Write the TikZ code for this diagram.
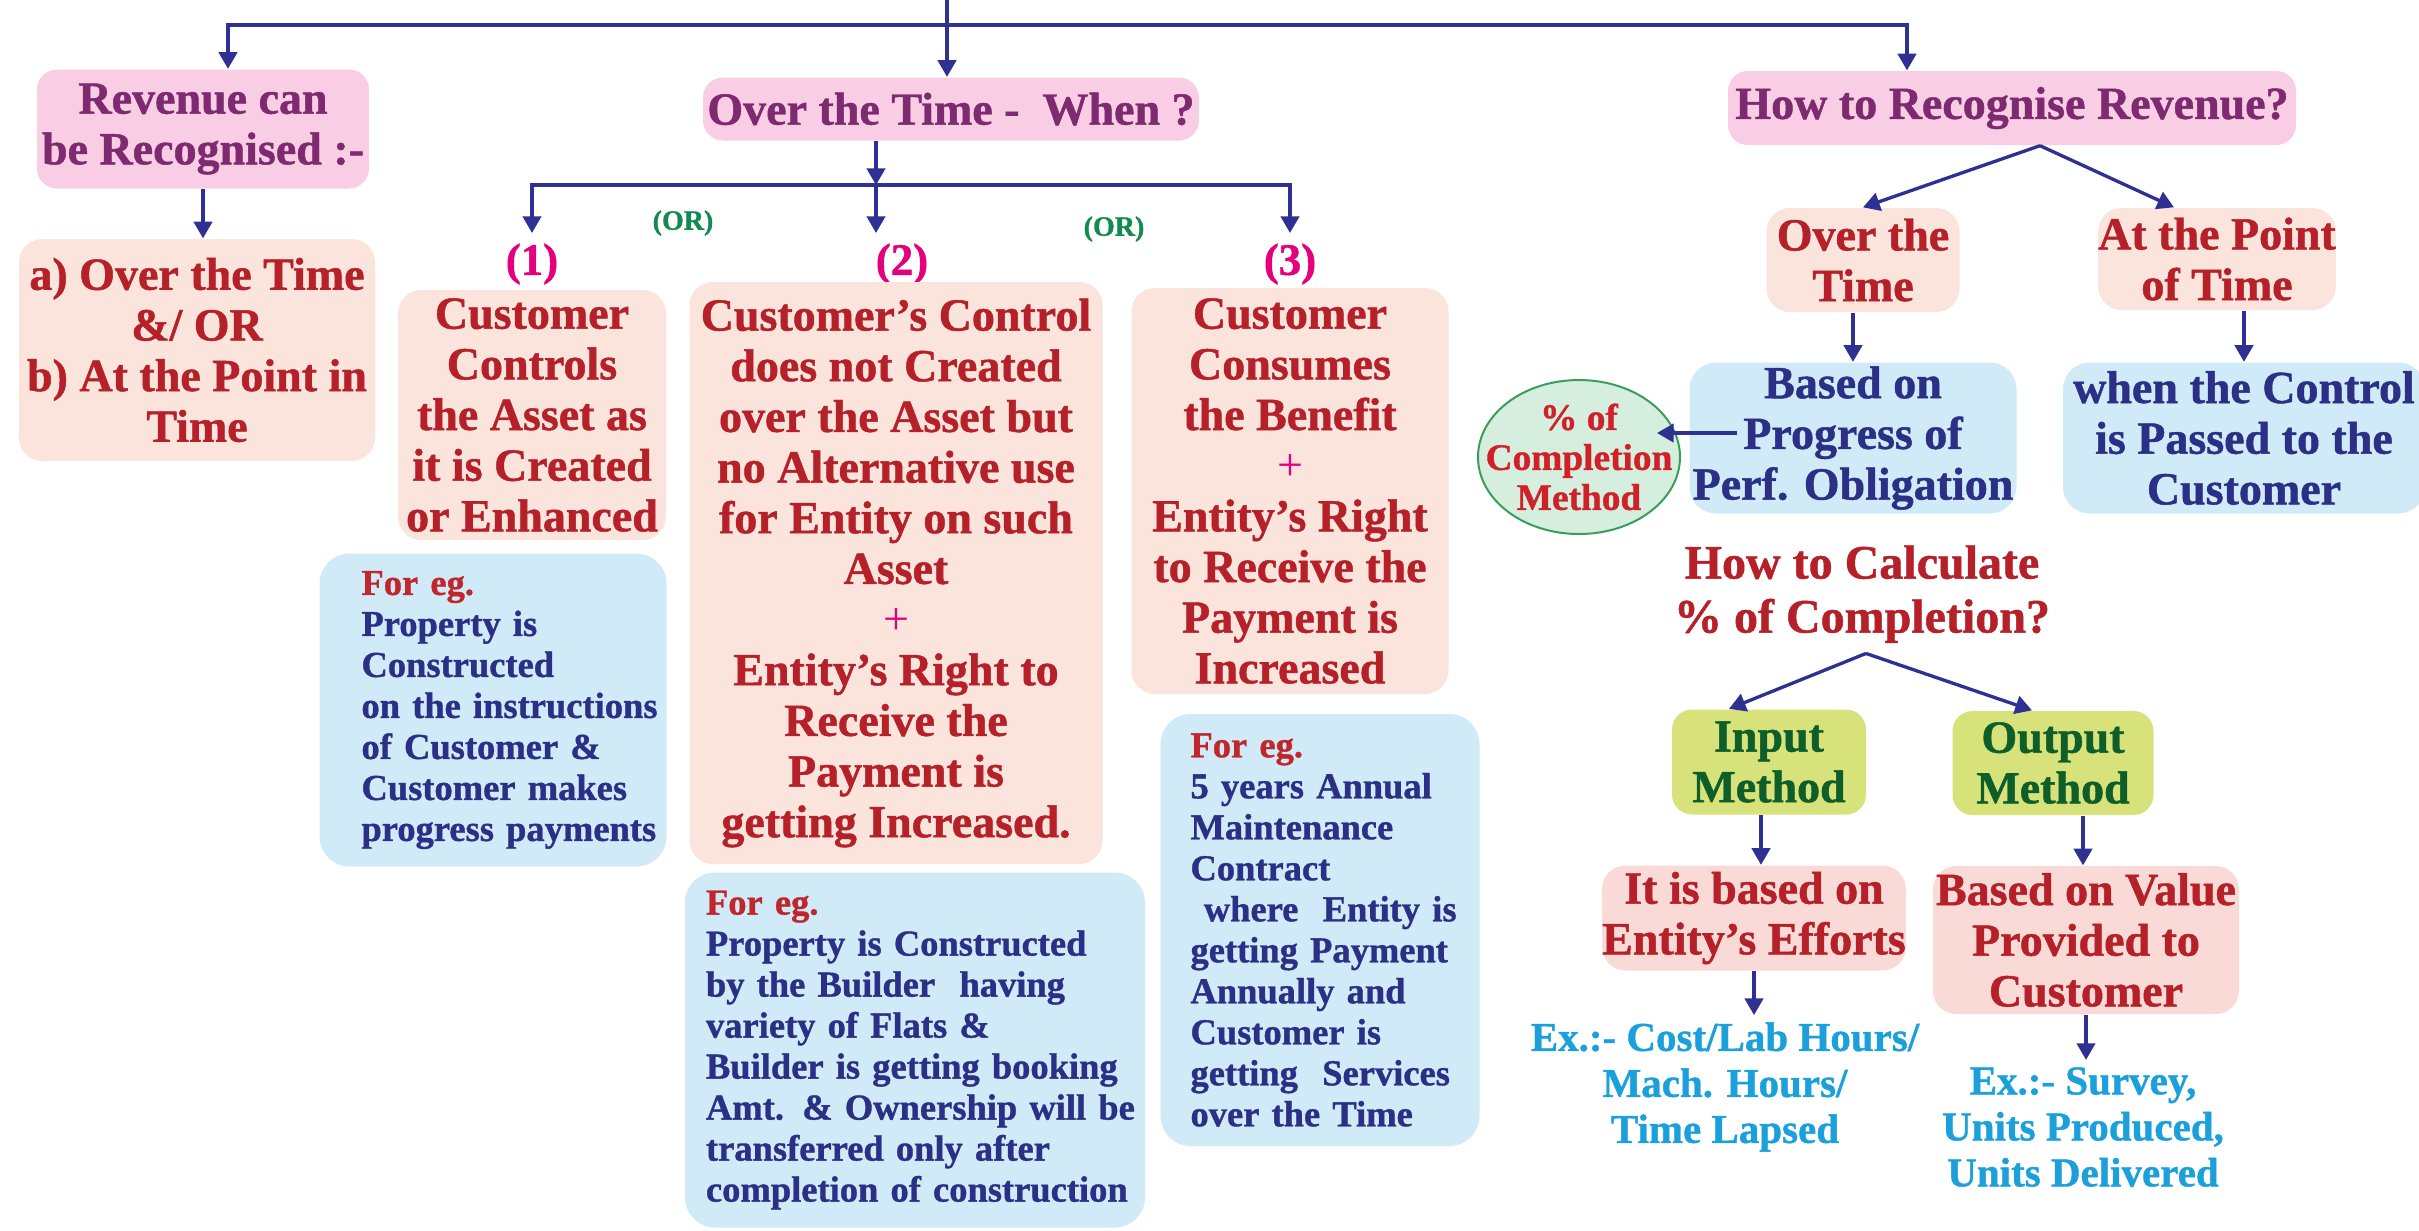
\documentclass[tikz,border=0pt]{standalone}
\usepackage{fontspec}
\setmainfont{Liberation Serif}[BoldFeatures={FakeBold=1}]
\usetikzlibrary{arrows.meta,shapes.geometric,calc}
\newdimen\pxu \pxu=0.3pt
\definecolor{arrowc}{HTML}{2E3192}
\definecolor{pinkc}{HTML}{F9CDE4}
\definecolor{purplec}{HTML}{7E2A70}
\definecolor{peachc}{HTML}{FBE4DC}
\definecolor{redc}{HTML}{B52029}
\definecolor{bluec}{HTML}{D0EAF7}
\definecolor{navyc}{HTML}{2B3086}
\definecolor{magc}{HTML}{E4007C}
\definecolor{orc}{HTML}{138A4F}
\definecolor{circfill}{HTML}{D5EEDD}
\definecolor{circdraw}{HTML}{3A9E5A}
\definecolor{circtext}{HTML}{D0202A}
\definecolor{limec}{HTML}{D7E27A}
\definecolor{dgreenc}{HTML}{0E5E2A}
\definecolor{effc}{HTML}{F9DAD6}
\definecolor{cyanc}{HTML}{1BA0DB}
\definecolor{egred}{HTML}{C0272D}
\newcommand\fmain{\fontsize{13.8pt}{15.2pt}\selectfont\bfseries}
\newcommand\feg{\fontsize{10.95pt}{12.3pt}\selectfont\bfseries}
\newcommand\for{\fontsize{8.4pt}{10pt}\selectfont\bfseries}
\newcommand\fcalc{\fontsize{14.4pt}{16.2pt}\selectfont\bfseries}
\newcommand\fcyan{\fontsize{12.3pt}{13.8pt}\selectfont\bfseries}
\newcommand\fcirc{\fontsize{11.2pt}{12pt}\selectfont\bfseries}
\newcommand\plusm{{\color{magc}\mdseries +}}
\begin{document}
\begin{tikzpicture}[x=0.3pt,y=-0.3pt,
  arr/.style={draw=arrowc, line width=1pt, -{Triangle[width=5.5pt,length=5pt]}},
  ln/.style={draw=arrowc, line width=1pt},
  base/.style={inner sep=0pt, align=center, font=\fmain},
  wh/.style 2 args={minimum width=#1\pxu, minimum height=#2\pxu},
  pinkbox/.style={base, fill=pinkc, rounded corners=6pt, text=purplec},
  peachbox/.style={base, fill=peachc, rounded corners=7pt, text=redc},
  effbox/.style={base, fill=effc, rounded corners=7pt, text=redc},
  bluebox/.style={base, fill=bluec, rounded corners=8pt, text=navyc},
  egbox/.style={fill=bluec, rounded corners=9pt, text=navyc, align=left, font=\feg, inner sep=0pt},
  limebox/.style={base, fill=limec, rounded corners=6pt, text=dgreenc},
  numlab/.style={inner sep=3pt, text=magc, font=\fontsize{13.5pt}{15pt}\selectfont\bfseries},
  orlab/.style={inner sep=0pt, text=orc, font=\for},
  cyantext/.style={inner sep=2pt, align=center, text=cyanc, font=\fcyan}
]
\useasboundingbox (0,0) rectangle (2419,1230);

% top level
\coordinate (top) at (947,0);
\coordinate (hub) at (947,25);
\node[pinkbox, wh={332}{119}] (rev) at (203,129) {Revenue can\\be Recognised :-};
\node[peachbox, wh={356}{222}] (ab) at (197,350) {a) Over the Time\\\&/ OR\\b) At the Point in\\Time};
\node[pinkbox, wh={496}{63}] (over) at (951,109) {Over the Time -\ \ When ?};
\node[pinkbox, wh={568}{74}] (howrec) at (2012,108) {How to Recognise Revenue?};

\draw[ln] (top) -- (hub);
\draw[arr] (hub) -| ($(rev.north)+(25,0)$);
\draw[arr] (hub) -- (hub |- over.north);
\draw[arr] (hub) -| ($(howrec.north)+(-105,0)$);
\draw[arr] (rev.south) -- (rev.south |- ab.north);

% over the time - when
\coordinate (j2) at (876,185);
\node[numlab] (n1) at (532,264) {(1)};
\node[numlab] (n2) at (902,264) {(2)};
\node[numlab] (n3) at (1290,264) {(3)};
\node[orlab] (or1) at (683,223) {(OR)};
\node[orlab] (or2) at (1114,229) {(OR)};
\draw[arr] (over.south -| j2) -- (j2);
\draw[arr] (j2) -| (n1.north);
\draw[arr] (j2) -| (n3.north);
\draw[arr] (j2) -- (j2 |- n2.north);

\node[peachbox, wh={268}{250}] (b1) at (532,415) {Customer\\Controls\\the Asset as\\it is Created\\or Enhanced};
\node[peachbox, wh={413}{582}] (b2) at (896,573) {Customer’s Control\\does not Created\\over the Asset but\\no Alternative use\\for Entity on such\\Asset\\\plusm\\Entity’s Right to\\Receive the\\Payment is\\getting Increased.};
\node[peachbox, wh={317}{406}] (b3) at (1290,491) {Customer\\Consumes\\the Benefit\\\plusm\\Entity’s Right\\to Receive the\\Payment is\\Increased};

\node[egbox, minimum height=313\pxu, text width=347\pxu] (eg1) at (493,710) {\leftskip=42\pxu {\color{egred}For eg.}\\Property is\\Constructed\\on the instructions\\of Customer \&\\Customer makes\\progress payments\par};
\node[egbox, minimum height=355\pxu, text width=460\pxu] (eg2) at (915,1050) {\leftskip=21\pxu {\color{egred}For eg.}\\Property is Constructed\\by the Builder\ \ having\\variety of Flats \&\\Builder is getting booking\\Amt. \& Ownership will be\\transferred only after\\completion of construction\par};
\node[egbox, minimum height=432\pxu, text width=319\pxu] (eg3) at (1320,930) {\leftskip=30\pxu {\color{egred}For eg.}\\5 years Annual\\Maintenance\\Contract\\\hspace*{4pt}where\ \ Entity is\\getting Payment\\Annually and\\Customer is\\getting\ \ Services\\over the Time\par};

% how to recognise
\node[peachbox, wh={193}{104}] (OT) at (1863,260) {Over the\\Time};
\node[peachbox, wh={216}{102}] (APT) at (2217,259) {At the Point\\of Time};
\draw[arr] ($(howrec.south)+(28,0)$) -- (OT.north);
\draw[arr] ($(howrec.south)+(28,0)$) -- ($(APT.north)+(-43,0)$);

\node[bluebox, wh={327}{151}] (Based) at (1853,438) {Based on\\Progress of\\Perf. Obligation};
\node[bluebox, wh={362}{151}] (When) at (2244,438) {when the Control\\is Passed to the\\Customer};
\draw[arr] (OT.south -| Based.north) -- (Based.north);
\draw[arr] (APT.south -| When.north) -- (When.north);

\node[ellipse, fill=circfill, draw=circdraw, line width=0.6pt, wh={202}{154}, inner sep=0pt, text=circtext, font=\fcirc] (circ) at (1579,457) {\smash{\makebox[0pt]{\raisebox{-4.2pt}{\begin{tabular}{@{}c@{}}\% of\\Completion\\Method\end{tabular}}}}};
\draw[arr] ($(Based.west)+(48,-5)$) -- ($(circ.east)+(-24,-24)$);

\node[inner sep=3pt, align=center, text=redc, font=\fcalc] (howcalc) at (1862,594) {How to Calculate\\\% of Completion?};

\node[limebox, wh={194}{105}] (inp) at (1769,762) {Input\\Method};
\node[limebox, wh={201}{104}] (outp) at (2053,763) {Output\\Method};
\draw[arr] ($(howcalc.south)+(4,0)$) -- ($(inp.north)+(-40,0)$);
\draw[arr] ($(howcalc.south)+(4,0)$) -- ($(outp.north)+(-21,0)$);

\node[effbox, wh={297}{105}] (effort) at (1754,918) {It is based on\\Entity’s Efforts};
\node[effbox, wh={306}{148}] (value) at (2086,940) {Based on Value\\Provided to\\Customer};
\coordinate (ia) at ($(inp.south)+(-8,0)$);
\coordinate (oa) at ($(outp.south)+(30,0)$);
\draw[arr] (ia) -- (ia |- effort.north);
\draw[arr] (oa) -- (oa |- value.north);

\node[cyantext] (ex1) at (1725,1087) {Ex.:- Cost/Lab Hours/\\Mach. Hours/\\Time Lapsed};
\node[cyantext] (ex2) at (2083,1127) {Ex.:- Survey,\\Units Produced,\\Units Delivered};
\draw[arr] (effort.south) -- (effort.south |- ex1.north);
\draw[arr] (value.south) -- (value.south |- ex2.north);
\end{tikzpicture}
\end{document}
